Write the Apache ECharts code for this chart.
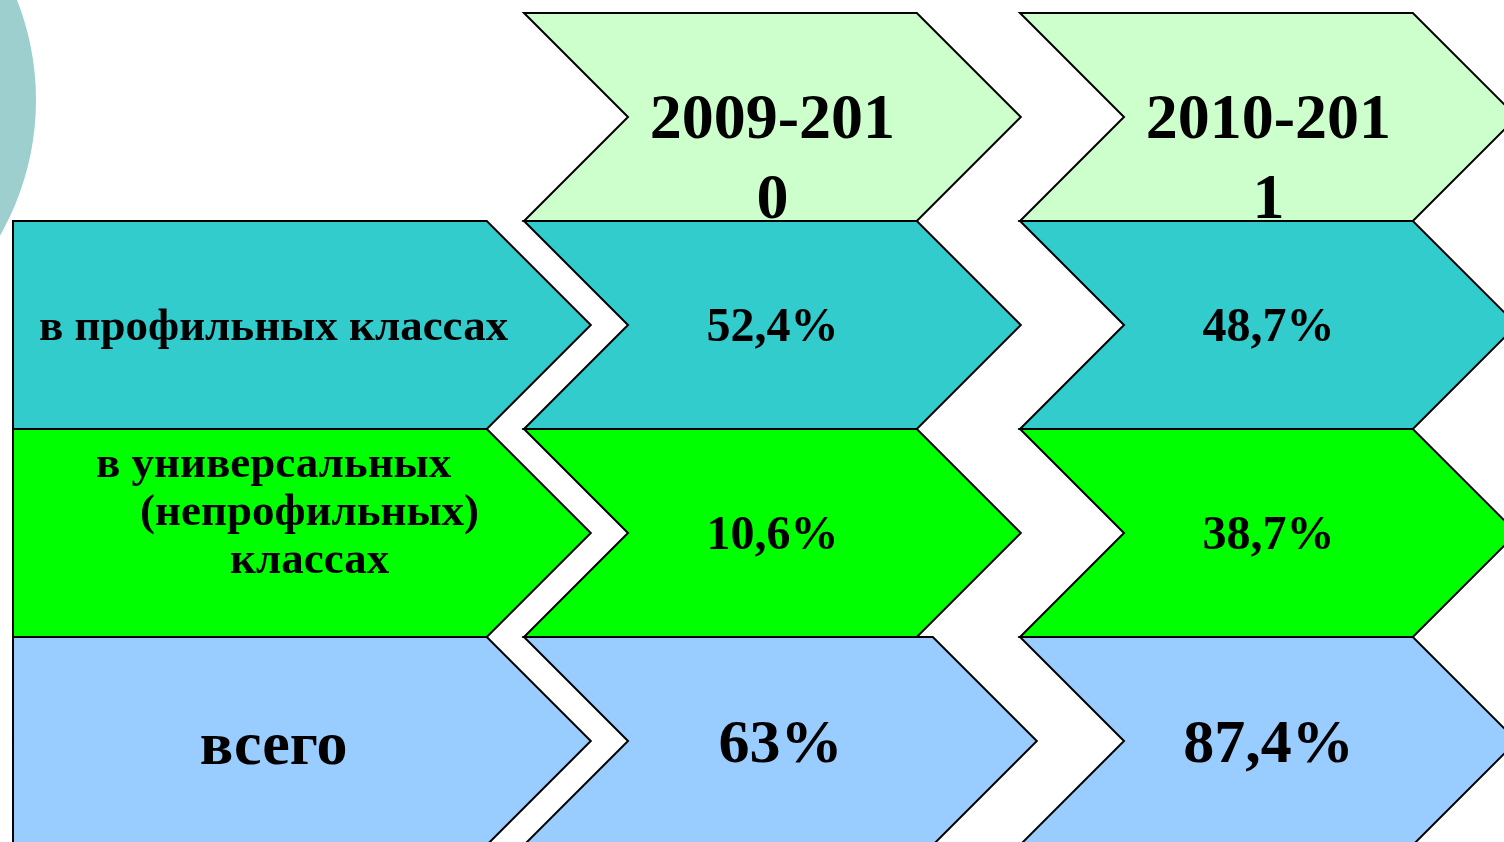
<!DOCTYPE html>
<html>
<head>
<meta charset="utf-8">
<script src="https://cdn.jsdelivr.net/npm/echarts@6/dist/echarts.min.js"></script>
<style>
  html, body { margin: 0; padding: 0; background: #fff; }
  #chart { width: 1504px; height: 842px; }
</style>
</head>
<body>
<div id="chart"></div>
<script>
// данные
const years = ['2009-201\n0', '2010-201\n1']
const rowLabels = [
  ['в профильных классах'],
  ['в универсальных', '(непрофильных)', 'классах'],
  ['всего']
]
const values20092010 = [52.4, 10.6, 63]
const values20102011 = [48.7, 38.7, 87.4]

const headerColor = '#ccffcc'
const rowColors = ['#33cccc', '#00ff00', '#99ccff']

// левая колонка и ширина тела стрелки (в единицах оси)
const HEAD_LEFT = -0.0302
const HEAD_RIGHT = 0.925
const BODY_W = 0.792
const FONT = '"Liberation Serif", "Times New Roman", serif'

const fmt = v => String(v).replace('.', ',') + '%'

// собираем ячейки
const cells = []
years.forEach((y, i) => cells.push({ col: i + 1, row: 0, text: y, fill: headerColor }))
rowLabels.forEach((lines, r) => cells.push({ col: 0, row: r + 1, lines: lines, fill: rowColors[r] }))
values20092010.forEach((v, r) => cells.push({ col: 1, row: r + 1, text: fmt(v), fill: rowColors[r] }))
values20102011.forEach((v, r) => cells.push({ col: 2, row: r + 1, text: fmt(v), fill: rowColors[r] }))

const chart = echarts.init(document.getElementById('chart'))

function renderItem (params, api) {
  const cell = cells[params.dataIndex]
  const col = api.value(0)
  const row = api.value(1)
  const top = api.coord([0, row])[1]
  const bot = api.coord([0, row + 1])[1]
  const mid = (top + bot) / 2
  const h = (bot - top) / 2
  let points, cx
  if (col === 0) {
    const left = api.coord([HEAD_LEFT, 0])[0]
    const right = api.coord([HEAD_RIGHT, 0])[0]
    points = [[left, top], [right, top], [right + h, mid], [right, bot], [left, bot]]
    cx = left + 0.55 * (right - left)
  } else {
    const left = api.coord([col, 0])[0]
    // у нижней ячейки первого года стрелка чуть шире
    const extra = (col === 1 && row === 3) ? 16 : 0
    const right = api.coord([col + BODY_W, 0])[0] + extra
    points = [[left, top], [right, top], [right + h, mid], [right, bot], [left, bot], [left + h, mid]]
    cx = (left + h + right) / 2
  }

  const children = [{
    type: 'polygon',
    shape: { points: points },
    style: { fill: cell.fill, stroke: '#000', lineWidth: 2, lineJoin: 'miter' }
  }]

  if (row === 0) {
    children.push({
      type: 'text',
      style: {
        x: cx, y: mid + 44, text: cell.text,
        align: 'center', verticalAlign: 'middle',
        font: 'bold 64px ' + FONT, lineHeight: 80, fill: '#000'
      }
    })
  } else if (col === 0) {
    if (cell.lines.length > 1) {
      const txt = cell.lines.map((l, i) => i === 0 ? '{a|' + l + '}' : '{b|' + l + '}').join('\n')
      children.push({
        type: 'text',
        style: {
          x: cx, y: mid - 20, text: txt,
          align: 'center', verticalAlign: 'middle', fill: '#000',
          rich: {
            a: { font: 'bold 45px ' + FONT, lineHeight: 48, fill: '#000' },
            b: { font: 'bold 45px ' + FONT, lineHeight: 48, fill: '#000', padding: [0, 0, 0, 72] }
          }
        }
      })
    } else {
      const big = row === 3
      children.push({
        type: 'text',
        style: {
          x: cx, y: mid + (big ? 7 : 3), text: cell.lines[0],
          align: 'center', verticalAlign: 'middle',
          font: 'bold ' + (big ? 62 : 45) + 'px ' + FONT, fill: '#000'
        }
      })
    }
  } else {
    const big = row === 3
    children.push({
      type: 'text',
      style: {
        x: cx, y: mid + (big ? 5 : 4), text: cell.text,
        align: 'center', verticalAlign: 'middle',
        font: 'bold ' + (big ? 62 : 48) + 'px ' + FONT, fill: '#000'
      }
    })
  }

  return { type: 'group', children: children }
}

const option = {
  animation: false,
  backgroundColor: '#fff',
  graphic: [{
    type: 'circle',
    z: -10,
    shape: { cx: -237, cy: 100, r: 273 },
    style: { fill: '#9dcfcf' }
  }],
  grid: { left: 0, right: 0, top: 0, bottom: 0 },
  xAxis: { type: 'value', min: -0.05645, max: 2.9758, show: false },
  yAxis: { type: 'value', inverse: true, min: -0.0625, max: 3.9856, show: false },
  series: [{
    type: 'custom',
    renderItem: renderItem,
    data: cells.map(c => [c.col, c.row])
  }]
}

chart.setOption(option)
window.addEventListener('resize', () => chart.resize())
</script>
</body>
</html>
